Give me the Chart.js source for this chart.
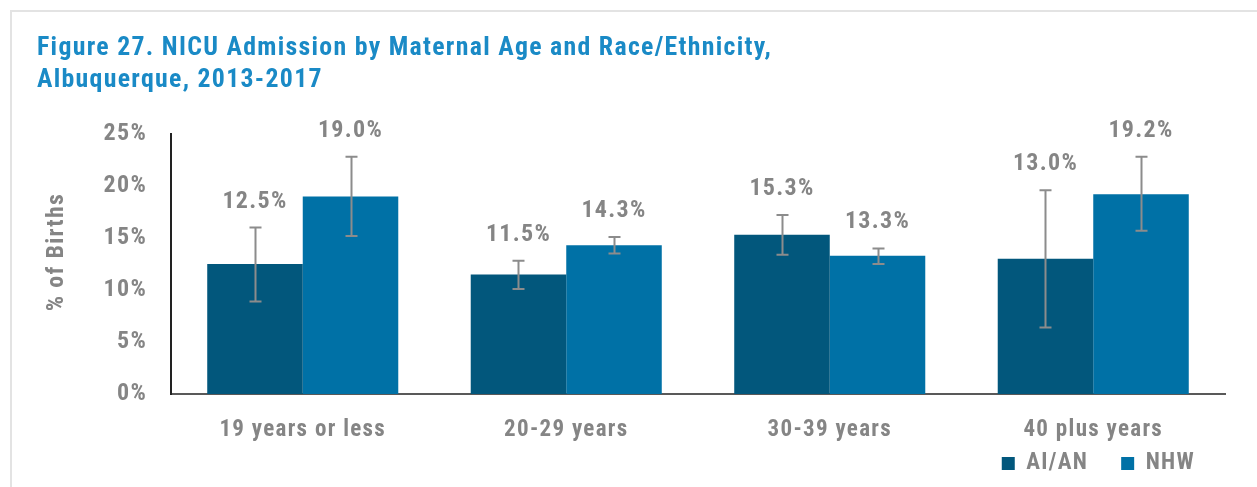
<!DOCTYPE html>
<html><head><meta charset="utf-8">
<script src="https://cdn.jsdelivr.net/npm/chart.js@4/dist/chart.umd.min.js"></script>
<style>
html,body{margin:0;padding:0;background:#fff;overflow:hidden;}
#frame{position:absolute;left:10px;top:10px;width:1400px;height:600px;border:2px solid #e3e3e3;box-sizing:border-box;}
#wrap{position:absolute;left:0;top:0;width:1257px;height:487px;}
</style></head><body>
<div id="frame"></div>
<div id="wrap"><canvas id="c" width="1257" height="487"></canvas></div>
<script>
const categories = ['19 years or less','20-29 years','30-39 years','40 plus years'];
const seriesNames = ['AI/AN','NHW'];
const aianValues = [12.5, 11.5, 15.3, 13.0];
const nhwValues = [19.0, 14.3, 13.3, 19.2];
const aianLow = [8.9, 10.1, 13.4, 6.4];
const aianHigh = [16.0, 12.8, 17.2, 19.6];
const nhwLow = [15.2, 13.5, 12.5, 15.7];
const nhwHigh = [22.8, 15.1, 14.0, 22.8];
const yTicks = [0,5,10,15,20,25];
const yAxisTitle = '% of Births';

const FONT = "'Liberation Sans Narrow','Roboto Condensed','Arial Narrow','Liberation Sans',sans-serif";
const GRAY = '#858585';
const LEGEND_PAD = 33;
const lows = [aianLow, nhwLow], highs = [aianHigh, nhwHigh], vals=[aianValues,nhwValues];

const spacingPlugin = {
  id:'spacing',
  beforeUpdate(chart){ chart.ctx.letterSpacing = '1.3px'; },
  beforeLayout(chart){
    const lg = chart.legend;
    if (lg && !lg._fitPatched) {
      const orig = lg.fit.bind(lg);
      lg.fit = function(){ orig(); this.height -= (LEGEND_PAD - 10); };
      lg._fitPatched = true;
    }
  },
  beforeDraw(chart){ chart.ctx.letterSpacing = '1.3px'; },
  afterLayout(chart){
    const lg = chart.legend;
    if (lg) {
      lg.right = 1228; lg.top = 442 - (LEGEND_PAD - 10);
      lg.bottom = chart.height; lg.height = lg.bottom - lg.top;
    }
  },
  afterDraw(chart){
    const ctx = chart.ctx;
    ctx.save();
    ctx.translate(57, 252);
    ctx.rotate(-Math.PI/2);
    ctx.fillStyle = GRAY;
    ctx.font = "bold 24px "+FONT;
    ctx.textAlign='center'; ctx.textBaseline='middle';
    ctx.fillText(yAxisTitle, 0, 0);
    ctx.restore();
  }
};

const errPlugin = {
  id:'err',
  afterDatasetsDraw(chart){
    const ctx = chart.ctx, y = chart.scales.y;
    ctx.save();
    chart.data.datasets.forEach((ds,di)=>{
      const meta = chart.getDatasetMeta(di);
      meta.data.forEach((bar,i)=>{
        const x = Math.round(bar.x)+0.5;
        const yl = y.getPixelForValue(lows[di][i]);
        const yh = y.getPixelForValue(highs[di][i]);
        ctx.strokeStyle = '#8c8c8c'; ctx.lineWidth = 2;
        ctx.beginPath();
        ctx.moveTo(x,yl); ctx.lineTo(x,yh);
        ctx.moveTo(x-6,yl); ctx.lineTo(x+6,yl);
        ctx.moveTo(x-6,yh); ctx.lineTo(x+6,yh);
        ctx.stroke();
        ctx.fillStyle = GRAY;
        ctx.font = "bold 24px "+FONT;
        ctx.textAlign='center'; ctx.textBaseline='middle';
        ctx.fillText(vals[di][i].toFixed(1)+'%', bar.x, yh-26);
      });
    });
    ctx.restore();
  }
};

new Chart(document.getElementById('c'), {
  type:'bar',
  data:{
    labels: categories,
    datasets:[
      {label:seriesNames[0], data:aianValues, backgroundColor:'#02577c', borderWidth:0},
      {label:seriesNames[1], data:nhwValues, backgroundColor:'#0071a6', borderWidth:0}
    ]
  },
  options:{
    responsive:false, animation:false,
    layout:{padding:{left:37,right:32,top:0,bottom:0}},
    categoryPercentage:0.725, barPercentage:1,
    plugins:{
      title:{display:true, align:'start', text:['Figure 27. NICU Admission by Maternal Age and Race/Ethnicity,','Albuquerque, 2013-2017'],
        color:'#1a8ac6', font:{family:FONT,size:25.8,weight:'bold',lineHeight:1.24}, padding:{top:33,bottom:37}},
      legend:{display:true, position:'bottom', align:'end',
        labels:{color:GRAY, font:{family:FONT,size:23,weight:'bold'}, boxWidth:13, boxHeight:13, padding:LEGEND_PAD}},
      tooltip:{enabled:false}
    },
    scales:{
      x:{grid:{display:false}, border:{display:true,color:'#595959',width:2},
         afterFit(s){ s.height = 50; },
         ticks:{color:GRAY, font:{family:FONT,size:23,weight:'bold'}, padding:14}},
      y:{min:0,max:25, grid:{display:false}, border:{display:true,color:'#222',width:2},
         afterBuildTicks(s){ s.ticks = yTicks.map(v=>({value:v})); },
         afterFit(s){ s.width = 134; },
         ticks:{color:GRAY, font:{family:FONT,size:24,weight:'bold'}, padding:16, callback:v=>v+'%'}}
    }
  },
  plugins:[spacingPlugin, errPlugin]
});
</script>
</body></html>
